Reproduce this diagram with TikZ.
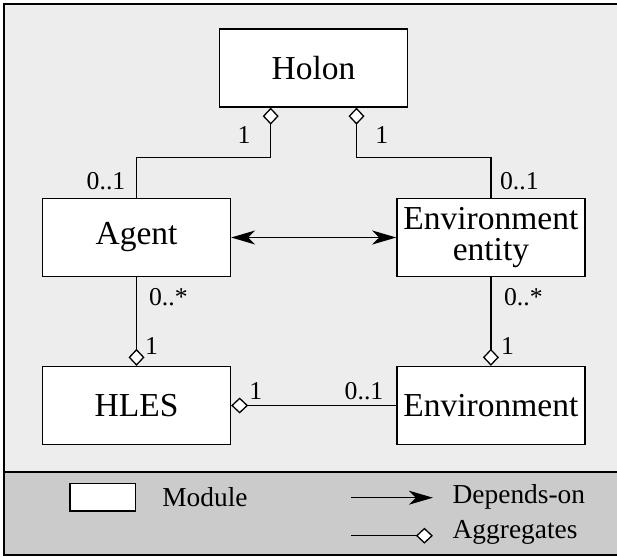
\documentclass[tikz,border=0pt]{standalone}
\usepackage{fontspec}
\setmainfont{Liberation Serif}
\usetikzlibrary{arrows.meta}
\definecolor{panel}{HTML}{EDEDED}
\definecolor{legendbg}{HTML}{CBCBCB}
\tikzset{
  module/.style={draw, fill=white, line width=1.3pt, inner sep=0pt,
    minimum width=188pt, minimum height=78pt, align=center,
    font=\fontsize{33.5}{31}\selectfont},
  mult/.style={anchor=base, inner sep=0pt, font=\fontsize{25.7}{28}\selectfont},
  legtext/.style={anchor=base west, inner sep=0pt, font=\fontsize{27.4}{30}\selectfont},
  link/.style={line width=1.3pt},
  agg/.style={link, {Diamond[length=17pt, width=16pt, fill=white, line width=1.3pt]}-},
  dep/.style={link, -{Stealth[length=24pt, width=14pt, inset=7pt]}},
  mutual/.style={link, {Stealth[length=24pt, width=14pt, inset=7pt]}-{Stealth[length=24pt, width=14pt, inset=7pt]}},
}
\begin{document}
\begin{tikzpicture}[x=1pt, y=-1pt]
\useasboundingbox (0,0) rectangle (617,556);
% panels and frame
\fill[panel] (4,3.7) rectangle (630,472);
\fill[legendbg] (4,472) rectangle (630,554.7);
\draw[line width=2.2pt] (630,3.7) -- (4,3.7) -- (4,554.7) -- (630,554.7);
\draw[line width=2.2pt] (4,472) -- (630,472);

% modules
\node[module] (holon)  at (313.5,68)    {Holon};
\node[module] (agent)  at (136.5,237.5) {Agent};
\node[module] (entity) at (490.9,237.5) {Environment\\entity};
\node[module] (hles)   at (136.5,405.5) {HLES};
\node[module] (env)    at (490.9,405.5) {Environment};

% relations
\draw[agg] ([xshift=-42.8pt]holon.south) -- ++(0,50) -| (agent.north);
\draw[agg] ([xshift=43pt]holon.south) -- ++(0,50) -| (entity.north);
\draw[mutual] (agent.east) -- (entity.west);
\draw[agg] (hles.north) -- (agent.south);
\draw[agg] (env.north) -- (entity.south);
\draw[agg] (hles.east) -- (env.west);

% multiplicities
\node[mult] (m1) at (244,143.3)   {1};
\node[mult] (m2) at (381.7,143.3) {1};
\node[mult] (m3) at (106,189.3)   {0..1};
\node[mult] (m4) at (519.4,189.3) {0..1};
\node[mult] (m5) at (168.4,305)   {0..*};
\node[mult] (m6) at (523.4,305)   {0..*};
\node[mult] (m7) at (151.5,354)   {1};
\node[mult] (m8) at (507.6,354)   {1};
\node[mult] (m9) at (255.8,399.3) {1};
\node[mult] (m10) at (364,399.3)  {0..1};

% legend
\node[draw, fill=white, line width=1.3pt, inner sep=0pt,
      minimum width=65.8pt, minimum height=27.7pt] (legmod) at (102.9,497) {};
\node[legtext] (legmodtxt) at (162.1,506.7) {Module};
\coordinate (depA) at (351.4,497.7);
\coordinate (depB) at (432.9,497.7);
\draw[dep] (depA) -- (depB);
\node[legtext] (legdep) at (452.5,503.3) {Depends-on};
\coordinate (aggA) at (351.4,535.7);
\coordinate (aggB) at (432.9,535.7);
\draw[agg] (aggB) -- (aggA);
\node[legtext] (legagg) at (452.5,538.3) {Aggregates};
\end{tikzpicture}
\end{document}
